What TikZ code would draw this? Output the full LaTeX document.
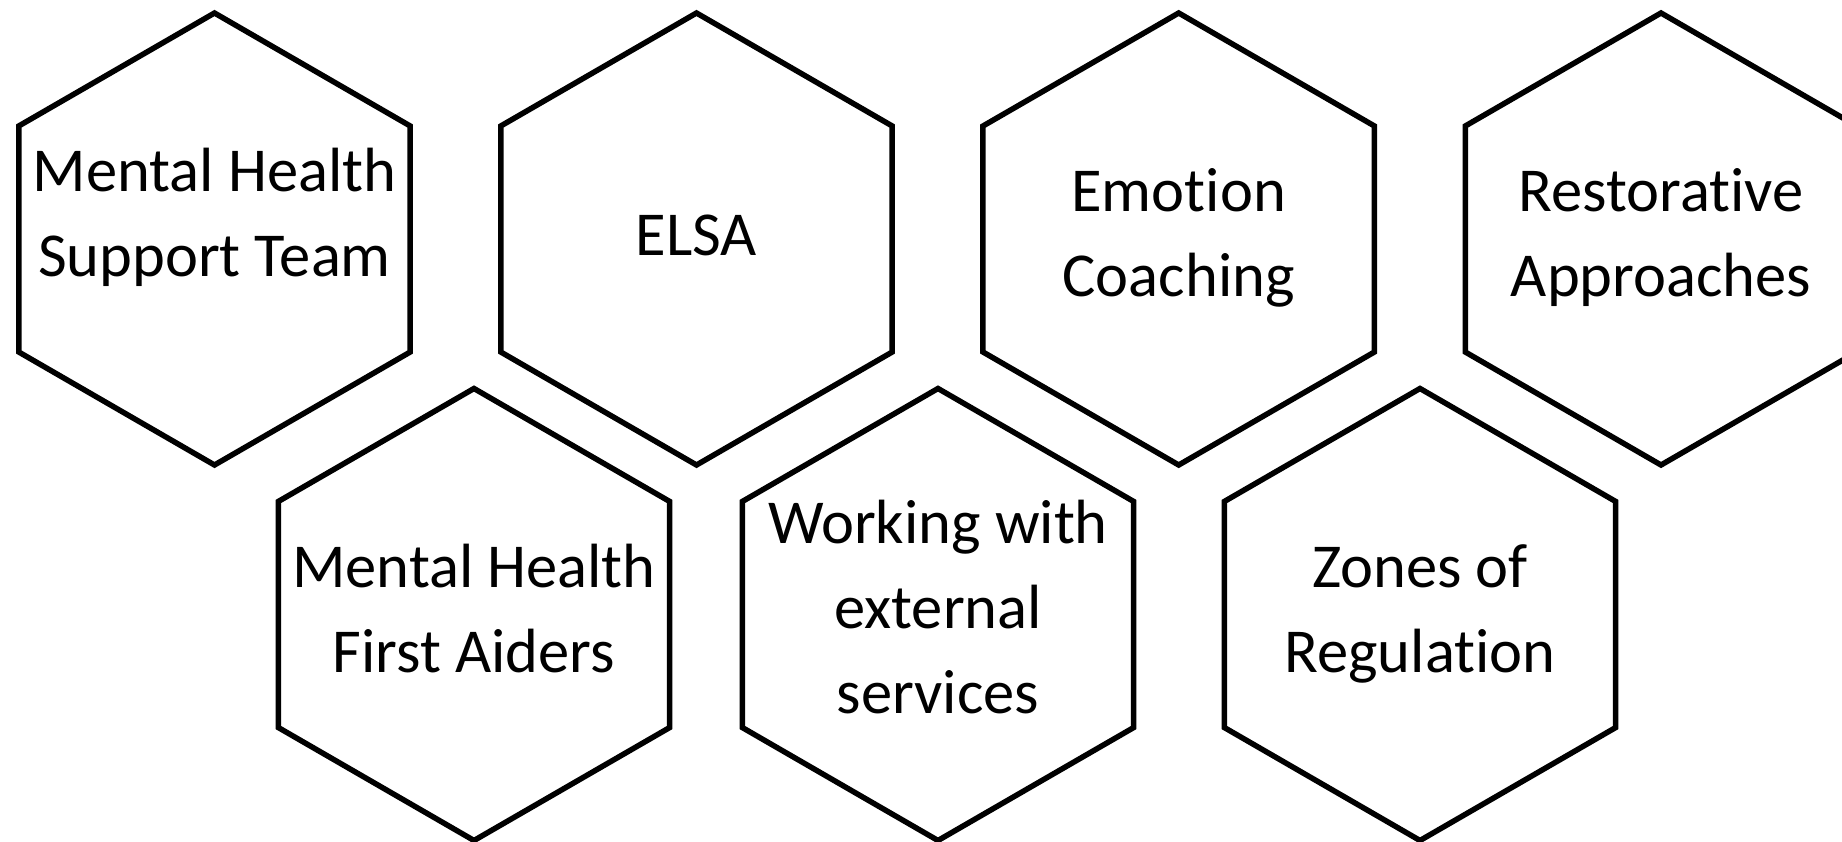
\documentclass[tikz,border=0pt]{standalone}
\usepackage{fontspec}
\setmainfont{Carlito}[Ligatures=NoCommon]
\usetikzlibrary{shapes.geometric}
\begin{document}
\begin{tikzpicture}[x=1pt,y=-1pt,
  hex/.style={regular polygon, regular polygon sides=6, shape border rotate=30,
    minimum size=452pt, inner sep=0pt, outer sep=0pt, draw=black, line width=5.5pt},
  hextext/.style={font=\fontsize{62.5}{85}\selectfont, align=center, anchor=base,
    inner sep=0pt, text=black}]
\useasboundingbox (0,0) rectangle (1842,841);
\fill[white] (0,0) rectangle (1842,841);
\clip (0,0) rectangle (1842,841);
% top row
\node[hex] (h1) at (214.5,239) {};
\node[hex] (h2) at (696.5,239) {};
\node[hex] (h3) at (1178.7,239) {};
\node[hex] (h4) at (1661,239) {};
% bottom row
\node[hex] (h5) at (474,614.5) {};
\node[hex] (h6) at (938,614.5) {};
\node[hex] (h7) at (1420,614.5) {};
% texts (anchored at the baseline of the last line)
\node[hextext] (t1) at (214.5,276.7) {Mental Health\\Support Team};
\node[hextext] (t2) at (696.5,255) {ELSA};
\node[hextext] (t3) at (1178.7,296.7) {Emotion\\Coaching};
\node[hextext] (t4) at (1661,296.7) {Restorative\\Approaches};
\node[hextext] (t5) at (474,672.7) {Mental Health\\First Aiders};
\node[hextext] (t6) at (938,713.3) {Working with\\external\\services};
\node[hextext] (t7) at (1420,672.7) {Zones of\\Regulation};
\end{tikzpicture}
\end{document}
